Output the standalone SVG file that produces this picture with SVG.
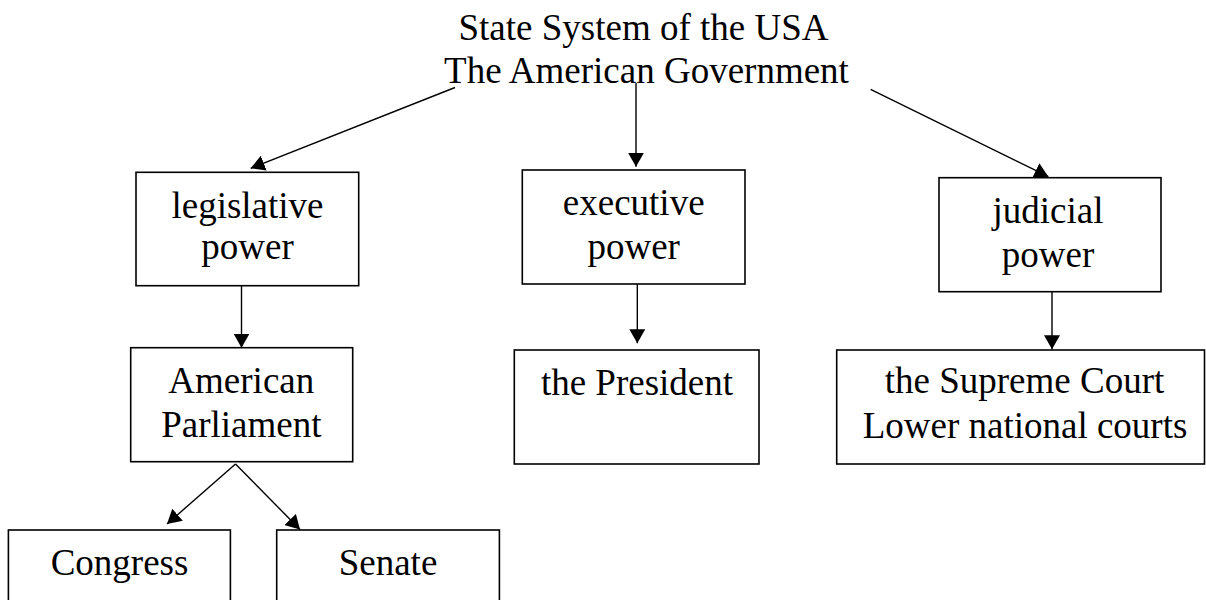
<svg xmlns="http://www.w3.org/2000/svg" width="1206" height="600" viewBox="0 0 1206 600">
<defs>
<marker id="ah" markerUnits="userSpaceOnUse" markerWidth="16" markerHeight="16" refX="14" refY="8" orient="auto">
<path d="M0,0 L14,8 L0,16 z" fill="#000"/>
</marker>
<style>
.box{fill:#fff;stroke:#000;stroke-width:1.6}
.t{font-family:"Liberation Serif","Times New Roman",serif;font-size:37px;fill:#000;text-anchor:middle}
.c{stroke:#000;stroke-width:1.4;fill:none;marker-end:url(#ah)}
</style>
</defs>
<rect width="1206" height="600" fill="#fff"/>
<g id="title">
<text class="t" x="643.5" y="39.5">State System of the USA</text>
<text class="t" x="646.5" y="82.7">The American Government</text>
</g>
<g id="legislative">
<rect class="box" x="136" y="172.3" width="222.7" height="113.4"/>
<text class="t" x="247.5" y="218.3">legislative</text>
<text class="t" x="247.5" y="259.3">power</text>
</g>
<g id="executive">
<rect class="box" x="522.3" y="170" width="222.7" height="114"/>
<text class="t" x="633.7" y="215">executive</text>
<text class="t" x="633.7" y="259">power</text>
</g>
<g id="judicial">
<rect class="box" x="939" y="177.7" width="222" height="114"/>
<text class="t" x="1048" y="223.3">judicial</text>
<text class="t" x="1048" y="266.7">power</text>
</g>
<g id="parliament">
<rect class="box" x="130.7" y="347.7" width="222" height="114"/>
<text class="t" x="241.3" y="393.3">American</text>
<text class="t" x="241.3" y="436.7">Parliament</text>
</g>
<g id="president">
<rect class="box" x="514.3" y="350" width="244.7" height="114"/>
<text class="t" x="637" y="395">the President</text>
</g>
<g id="courts">
<rect class="box" x="836.7" y="350" width="367.8" height="114"/>
<text class="t" x="1024.5" y="393.3">the Supreme Court</text>
<text class="t" x="1025" y="438.3">Lower national courts</text>
</g>
<g id="congress">
<rect class="box" x="8.4" y="530" width="222" height="80"/>
<text class="t" x="119.5" y="575">Congress</text>
</g>
<g id="senate">
<rect class="box" x="276.7" y="530" width="222.7" height="80"/>
<text class="t" x="388" y="575">Senate</text>
</g>
<g id="connectors">
<line class="c" x1="455" y1="87.5" x2="250.7" y2="168.3"/>
<line class="c" x1="636" y1="83" x2="636" y2="166.7"/>
<line class="c" x1="870.6" y1="89.3" x2="1048.4" y2="176.7"/>
<line class="c" x1="241.5" y1="285.7" x2="241.5" y2="347.7"/>
<line class="c" x1="637.3" y1="284" x2="637.3" y2="343.3"/>
<line class="c" x1="1052" y1="291.7" x2="1052" y2="349.3"/>
<line class="c" x1="235.5" y1="464" x2="167" y2="524"/>
<line class="c" x1="235.5" y1="464" x2="300" y2="529.5"/>
</g>
</svg>
